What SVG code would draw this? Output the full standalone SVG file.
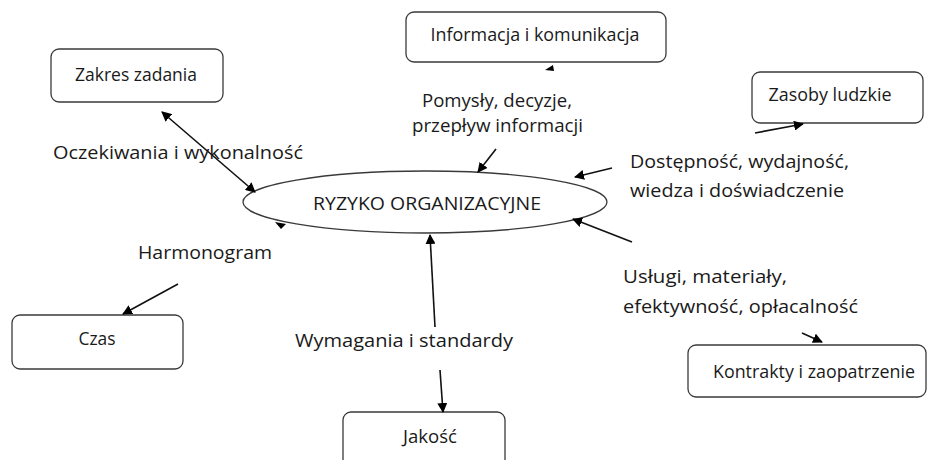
<svg xmlns="http://www.w3.org/2000/svg" width="932" height="460" viewBox="0 0 932 460">
  <defs>
    <marker id="arrow" viewBox="0 0 10 10" refX="9" refY="5" markerWidth="10" markerHeight="10" markerUnits="userSpaceOnUse" orient="auto-start-reverse">
      <path d="M0,0 L10,5 L0,10 z" fill="#000"/>
    </marker>
    <style>
      .box { fill: #fff; stroke: #3a3a3a; stroke-width: 1.3; }
      .oval { fill: #fff; stroke: #3a3a3a; stroke-width: 1.3; }
      .lbl { font-family: "Open Sans", "Noto Sans", "Liberation Sans", sans-serif; font-size: 19px; fill: #1a1a1a; }
      .nt { font-family: "Open Sans", "Noto Sans", "Liberation Sans", sans-serif; font-size: 18px; fill: #1a1a1a; text-anchor: middle; }
      .edge { stroke: #111; stroke-width: 1.6; fill: none; }
      .tip { fill: #000; }
    </style>
  </defs>
  <rect width="932" height="460" fill="#fff"/>

  <!-- nodes -->
  <g id="zakres">
    <rect class="box" x="51" y="49" width="172" height="53" rx="8"/>
    <text class="nt" x="136" y="81" textLength="122" lengthAdjust="spacingAndGlyphs">Zakres zadania</text>
  </g>
  <g id="informacja">
    <rect class="box" x="406" y="12" width="260" height="50" rx="8"/>
    <text class="nt" x="535" y="41" textLength="209" lengthAdjust="spacingAndGlyphs">Informacja i komunikacja</text>
  </g>
  <g id="zasoby">
    <rect class="box" x="752" y="72" width="171" height="51" rx="8"/>
    <text class="nt" x="830" y="101" textLength="123" lengthAdjust="spacingAndGlyphs">Zasoby ludzkie</text>
  </g>
  <g id="ryzyko">
    <ellipse class="oval" cx="425" cy="202" rx="182" ry="31"/>
    <text class="nt" x="427" y="210" textLength="228" lengthAdjust="spacingAndGlyphs">RYZYKO ORGANIZACYJNE</text>
  </g>
  <g id="czas">
    <rect class="box" x="12" y="315" width="171" height="54" rx="8"/>
    <text class="nt" x="97" y="345" textLength="37" lengthAdjust="spacingAndGlyphs">Czas</text>
  </g>
  <g id="jakosc">
    <rect class="box" x="343" y="412" width="162" height="60" rx="8"/>
    <text class="nt" x="430" y="443" textLength="54" lengthAdjust="spacingAndGlyphs">Jakość</text>
  </g>
  <g id="kontrakty">
    <rect class="box" x="688" y="345" width="238" height="52" rx="8"/>
    <text class="nt" x="814" y="378" textLength="202" lengthAdjust="spacingAndGlyphs">Kontrakty i zaopatrzenie</text>
  </g>

  <!-- connectors -->
  <g id="connectors">
    <line class="edge" x1="162" y1="112" x2="255" y2="192" marker-start="url(#arrow)" marker-end="url(#arrow)"/>
    <line class="edge" x1="496" y1="149" x2="478" y2="172" marker-end="url(#arrow)"/>
    <line class="edge" x1="612" y1="168" x2="575" y2="177" marker-end="url(#arrow)"/>
    <line class="edge" x1="755" y1="133" x2="803" y2="124" marker-end="url(#arrow)"/>
    <line class="edge" x1="632" y1="242" x2="573" y2="219" marker-end="url(#arrow)"/>
    <line class="edge" x1="802" y1="333" x2="822" y2="342" marker-end="url(#arrow)"/>
    <line class="edge" x1="435" y1="327" x2="430" y2="235" marker-end="url(#arrow)"/>
    <line class="edge" x1="440" y1="370" x2="443" y2="412" marker-end="url(#arrow)"/>
    <line class="edge" x1="178" y1="284" x2="123" y2="314" marker-end="url(#arrow)"/>
    <!-- stray arrow tips -->
    <polygon class="tip" points="545,70 553,65 554,71"/>
    <polygon class="tip" points="275,222 286,224 281,229"/>
  </g>

  <!-- edge labels -->
  <g id="labels">
    <text class="lbl" x="53" y="159" textLength="250" lengthAdjust="spacingAndGlyphs">Oczekiwania i wykonalność</text>
    <text class="lbl" x="422" y="107" textLength="150" lengthAdjust="spacingAndGlyphs">Pomysły, decyzje,</text>
    <text class="lbl" x="412" y="132" textLength="171" lengthAdjust="spacingAndGlyphs">przepływ informacji</text>
    <text class="lbl" x="630" y="168" textLength="219" lengthAdjust="spacingAndGlyphs">Dostępność, wydajność,</text>
    <text class="lbl" x="630" y="197" textLength="214" lengthAdjust="spacingAndGlyphs">wiedza i doświadczenie</text>
    <text class="lbl" x="138" y="259" textLength="134" lengthAdjust="spacingAndGlyphs">Harmonogram</text>
    <text class="lbl" x="295" y="347" textLength="218" lengthAdjust="spacingAndGlyphs">Wymagania i standardy</text>
    <text class="lbl" x="623" y="283" textLength="164" lengthAdjust="spacingAndGlyphs">Usługi, materiały,</text>
    <text class="lbl" x="623" y="313" textLength="235" lengthAdjust="spacingAndGlyphs">efektywność, opłacalność</text>
  </g>
</svg>
